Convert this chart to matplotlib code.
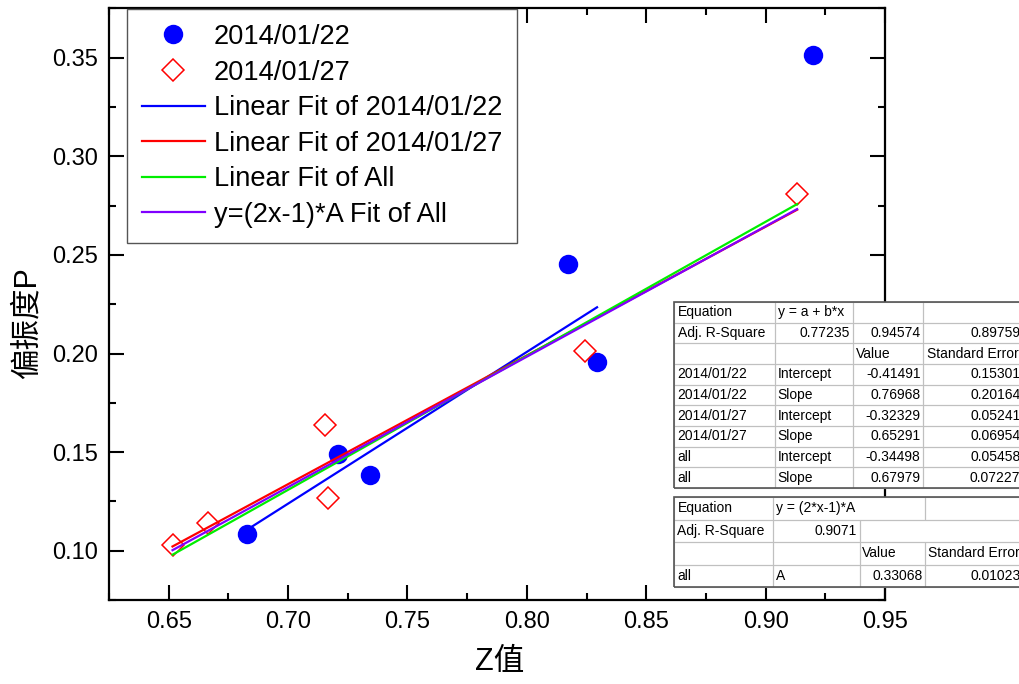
import numpy as np
import matplotlib.pyplot as plt
from matplotlib.table import Table
from matplotlib.patches import Rectangle
from matplotlib.ticker import MultipleLocator

plt.rcParams['font.family'] = ['Liberation Sans', 'Noto Sans CJK SC']

# measured points
x22 = [0.6827, 0.7208, 0.7342, 0.8172, 0.8294, 0.9199]
y22 = [0.1083, 0.1490, 0.1383, 0.2455, 0.1957, 0.3512]
x27 = [0.6516, 0.6663, 0.7154, 0.7166, 0.8244, 0.9132]
y27 = [0.1027, 0.1139, 0.1637, 0.1266, 0.2013, 0.2811]

# fit results (last 01/22 point was left out of the fits)
a22, b22 = -0.41491, 0.76968
a27, b27 = -0.32329, 0.65291
a_all, b_all = -0.34498, 0.67979
A_all = 0.33068

tab1 = [['Equation', 'y = a + b*x', '', ''],
        ['Adj. R-Square', '0.77235', '0.94574', '0.89759'],
        ['', '', 'Value', 'Standard Error'],
        ['2014/01/22', 'Intercept', '-0.41491', '0.15301'],
        ['2014/01/22', 'Slope', '0.76968', '0.20164'],
        ['2014/01/27', 'Intercept', '-0.32329', '0.05241'],
        ['2014/01/27', 'Slope', '0.65291', '0.06954'],
        ['all', 'Intercept', '-0.34498', '0.05458'],
        ['all', 'Slope', '0.67979', '0.07227']]
tab2 = [['Equation', 'y = (2*x-1)*A', '', ''],
        ['Adj. R-Square', '0.9071', '', ''],
        ['', '', 'Value', 'Standard Error'],
        ['all', 'A', '0.33068', '0.01023']]

fig = plt.figure(figsize=(10.2, 6.84), dpi=100)
ax = fig.add_axes([109/1020, 1-600/684, 776/1020, 591.5/684])

ax.plot(x22, y22, 'o', color='#0000ff', ms=14, mec='none', label='2014/01/22', zorder=2)
ax.plot(x27, y27, 'D', color='#ff0000', ms=11.5, mfc='none', mew=1.1, label='2014/01/27', zorder=2)

xf22 = np.array([min(x22[:5]), max(x22[:5])])
xf27 = np.array([min(x27), max(x27)])
xfall = np.array([min(x22[:5] + x27), max(x22[:5] + x27)])
ax.plot(xf22, a22 + b22*xf22, color='#0000ff', lw=1.6, label='Linear Fit of 2014/01/22', zorder=3)
ax.plot(xf27, a27 + b27*xf27, color='#ff0000', lw=1.6, label='Linear Fit of 2014/01/27', zorder=3)
ax.plot(xfall, a_all + b_all*xfall, color='#00ee00', lw=1.6, label='Linear Fit of All', zorder=3)
ax.plot(xfall, (2*xfall - 1)*A_all, color='#8000ff', lw=1.6, label='y=(2x-1)*A Fit of All', zorder=3)

ax.set_xlim(0.625, 0.95)
ax.set_ylim(0.075, 0.375)
ax.xaxis.set_major_locator(MultipleLocator(0.05))
ax.xaxis.set_minor_locator(MultipleLocator(0.025))
ax.yaxis.set_major_locator(MultipleLocator(0.05))
ax.yaxis.set_minor_locator(MultipleLocator(0.025))
ax.xaxis.set_major_formatter(lambda v, p: f'{v:.2f}')
ax.yaxis.set_major_formatter(lambda v, p: f'{v:.2f}')
ax.tick_params(which='both', direction='in', top=True, right=True, width=1.5)
ax.tick_params(which='major', length=11, labelsize=17, pad=8)
ax.tick_params(which='minor', length=5)
for s in ax.spines.values():
    s.set_linewidth(1.6)

ax.set_xlabel('Z值', fontsize=22)
ax.set_ylabel('偏振度P', fontsize=22)
ax.xaxis.set_label_coords(0.504, -0.079)
ax.yaxis.set_label_coords(-0.086, 0.468)

leg = ax.legend(loc='upper left', bbox_to_anchor=(127/1020, 1-9/684), bbox_transform=fig.transFigure,
                borderaxespad=0, fontsize=19.6, frameon=True, fancybox=False, edgecolor='#555555',
                framealpha=1, numpoints=1, handlelength=2.3, handletextpad=0.33,
                labelspacing=0.35, borderpad=0.55)
leg.get_frame().set_linewidth(1.0)


def draw_table(top, bottom, widths, rows, merged):
    x0 = 674
    tax = fig.add_axes([x0/1020, 1-bottom/684, sum(widths)/1020, (bottom-top)/684])
    tax.axis('off')
    tax.add_patch(Rectangle((0, 0), 1, 1, transform=tax.transAxes, facecolor='white',
                            edgecolor='none', zorder=-1, clip_on=False))
    tb = Table(tax, bbox=[0, 0, 1, 1])
    n = len(rows)
    for r, row in enumerate(rows):
        for c, txt in enumerate(row):
            try:
                float(txt)
                loc = 'right'
            except ValueError:
                loc = 'left'
            cell = tb.add_cell(r, c, widths[c], 1/n, text=txt, loc=loc,
                               edgecolor='#c0c0c0', facecolor='none')
            cell.set_linewidth(0.8)
            cell.PAD = 0.035
    for (r, c) in merged:
        tb[r, c].visible_edges = 'BTL'
        tb[r, c+1].visible_edges = 'BTR'
    tb.auto_set_font_size(False)
    tb.set_fontsize(10)
    tax.add_table(tb)
    tax.add_patch(Rectangle((0, 0), 1, 1, transform=tax.transAxes, fill=False,
                            edgecolor='#555555', lw=1.2, zorder=5, clip_on=False))


draw_table(302, 488, [101, 78, 70, 101], tab1, [])
draw_table(497, 587, [99, 87, 65, 99], tab2, [(0, 1), (1, 2)])

fig.savefig('out.png', dpi=100)
